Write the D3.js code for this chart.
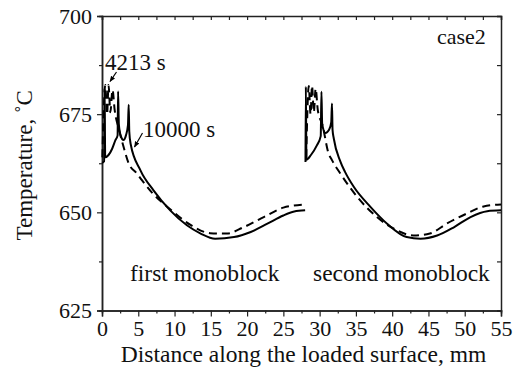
<!DOCTYPE html>
<html>
<head>
<meta charset="utf-8">
<script src="https://cdn.jsdelivr.net/npm/d3@7"></script>
<style>
    body { margin: 0; background: #fff; }
    svg text { font-family: "Liberation Serif", "Times New Roman", Times, "DejaVu Serif", serif !important; }
</style>
</head>
<body>
<svg id="chart" width="519" height="375"></svg>
<script>
// values: [distance mm, temperature C]
const firstSolid = [
    [0, 662.6], [0.3, 663], [0.36, 681.5], [0.44, 664], [0.9, 664.6], [1.4, 666.2], [1.85, 668.4],
    [2.15, 669.6], [2.22, 680.8], [2.32, 672.5], [2.6, 669.4], [2.96, 668.4], [3.3, 669.6],
    [3.58, 672.2], [3.68, 677.4], [3.76, 670.6], [3.95, 667.4], [5.3, 660.7], [7.1, 655.6],
    [9.4, 650.5], [11.7, 646.7], [13.6, 644.6], [15.6, 643.3], [18.2, 643.7], [20.5, 645],
    [22.8, 647.1], [25, 649.2], [26.5, 650.2], [28, 650.5]
];
const firstDashed = [
    [0.05, 664], [0.45, 682.4], [0.7, 675], [0.9, 682.4], [1.15, 675.5], [1.45, 681.2],
    [1.75, 676], [2.3, 671.4], [3, 666.5], [3.65, 662.6], [4.85, 659.8], [5.5, 658.2],
    [7, 654.8], [9.4, 650.8], [12.2, 646.8], [14.9, 644.7], [17.2, 644.6], [19.5, 646.2],
    [22.3, 648.8], [25, 651.2], [28, 652]
];
const secondSolid = [
    [28.05, 662.8], [28.1, 682], [28.18, 663.4], [28.8, 664.6], [29.6, 667], [30.15, 669.4],
    [30.25, 680.7], [30.35, 672.5], [30.8, 670.2], [31.3, 671], [31.6, 673], [31.7, 677.7],
    [31.78, 671], [31.95, 668.8], [32.85, 663], [33.5, 660.3], [34.7, 656.5], [37, 651.4],
    [39.3, 647.1], [42, 643.7], [43.9, 643.3], [46.2, 644.1], [48.5, 646.2], [50.8, 648.8],
    [53.1, 650.3], [55, 650.5]
];
const secondDashed = [
    [28.15, 664], [28.5, 682.2], [28.75, 675], [28.95, 682.2], [29.2, 675.5], [29.45, 681.5],
    [29.75, 676], [30.4, 672.2], [31.2, 665.2], [31.7, 663.3], [32.85, 659.9], [35.2, 653.9],
    [37.9, 648.8], [40.7, 645.4], [42.9, 644.1], [45.2, 644.6], [47.5, 647.1], [50.3, 649.7],
    [52.6, 651.5], [55, 652]
];

const xMajor = [0, 5, 10, 15, 20, 25, 30, 35, 40, 45, 50, 55];
const xMinor = [2.5, 7.5, 12.5, 17.5, 22.5, 27.5, 32.5, 37.5, 42.5, 47.5, 52.5];
const yMajor = [625, 650, 675, 700];
const yMinor = [637.5, 662.5, 687.5];

const margin = { top: 16, right: 18, bottom: 64.5, left: 102 };
const svg = d3.select("#chart");
const width = +svg.attr("width") - margin.left - margin.right;
const height = +svg.attr("height") - margin.top - margin.bottom;

const x = d3.scaleLinear().domain([0, 55]).range([0, width]);
const y = d3.scaleLinear().domain([625, 700]).range([height, 0]);

const g = svg.append("g").attr("transform", `translate(${margin.left},${margin.top})`);

// arrow head for the two labels
svg.append("defs")
    .append("marker")
    .attr("id", "arrow")
    .attr("viewBox", "0 0 10 10")
    .attr("refX", 9)
    .attr("refY", 5)
    .attr("markerWidth", 5)
    .attr("markerHeight", 5)
    .attr("orient", "auto")
    .append("path")
    .attr("d", "M0,1 L10,5 L0,9 Z")
    .attr("fill", "#000");

function styleAxis(sel) {
    sel.select(".domain").attr("stroke", "#222").attr("stroke-width", 1.5);
    sel.selectAll(".tick line").attr("stroke", "#222").attr("stroke-width", 1.2);
    sel.selectAll("text").attr("font-size", 22).attr("fill", "#111");
}

// bottom
g.append("g")
    .attr("transform", `translate(0,${height})`)
    .call(d3.axisBottom(x).tickValues(xMajor).tickSize(6).tickPadding(4).tickFormat(d3.format("d")))
    .call(styleAxis);
g.append("g")
    .attr("transform", `translate(0,${height})`)
    .call(d3.axisBottom(x).tickValues(xMinor).tickSize(3).tickFormat(""))
    .call(styleAxis);
// left
g.append("g")
    .call(d3.axisLeft(y).tickValues(yMajor).tickSize(5).tickPadding(5).tickFormat(d3.format("d")))
    .call(styleAxis);
g.append("g")
    .call(d3.axisLeft(y).tickValues(yMinor).tickSize(3).tickFormat(""))
    .call(styleAxis);
// top and right, ticks inward
g.append("g")
    .call(d3.axisTop(x).tickValues(xMajor.concat(xMinor)).tickSize(-4).tickFormat(""))
    .call(styleAxis);
g.append("g")
    .attr("transform", `translate(${width},0)`)
    .call(d3.axisRight(y).tickValues(yMajor.concat(yMinor)).tickSize(-4).tickFormat(""))
    .call(styleAxis);

// curves
const line = d3
    .line()
    .x(d => x(d[0]))
    .y(d => y(d[1]))
    .curve(d3.curveMonotoneX);

const series = [
    { data: firstDashed, dash: "8,5" },
    { data: secondDashed, dash: "8,5" },
    { data: firstSolid, dash: null },
    { data: secondSolid, dash: null }
];

g.selectAll("path.curve")
    .data(series)
    .enter()
    .append("path")
    .classed("curve", true)
    .attr("d", d => line(d.data))
    .attr("fill", "none")
    .attr("stroke", "#000")
    .attr("stroke-width", 2)
    .attr("stroke-linejoin", "round")
    .attr("stroke-dasharray", d => d.dash);

// axis titles
svg.append("text")
    .attr("x", margin.left + width / 2 + 2)
    .attr("y", 361.5)
    .attr("text-anchor", "middle")
    .attr("font-size", 23.5)
    .attr("fill", "#111")
    .text("Distance along the loaded surface, mm");

svg.append("text")
    .attr("transform", `translate(32,${margin.top + height / 2 + 2}) rotate(-90)`)
    .attr("text-anchor", "middle")
    .attr("font-size", 23)
    .attr("fill", "#111")
    .text("Temperature, \u02daC");

// annotations
const notes = [
    { text: "4213 s", x: 105, y: 70, size: 23 },
    { text: "10000 s", x: 143, y: 136.5, size: 23 },
    { text: "case2", x: 437, y: 44, size: 22 },
    { text: "first monoblock", x: 130, y: 280.5, size: 23.5 },
    { text: "second monoblock", x: 313, y: 280.5, size: 23.5 }
];

svg.selectAll("text.note")
    .data(notes)
    .enter()
    .append("text")
    .classed("note", true)
    .attr("x", d => d.x)
    .attr("y", d => d.y)
    .attr("font-size", d => d.size)
    .attr("fill", "#111")
    .text(d => d.text);

const arrows = [
    [116.5, 72, 110, 81.5],
    [142.5, 133, 134.5, 147]
];

svg.selectAll("line.arrow")
    .data(arrows)
    .enter()
    .append("line")
    .classed("arrow", true)
    .attr("x1", d => d[0])
    .attr("y1", d => d[1])
    .attr("x2", d => d[2])
    .attr("y2", d => d[3])
    .attr("stroke", "#000")
    .attr("stroke-width", 1.2)
    .attr("marker-end", "url(#arrow)");
</script>
</body>
</html>
